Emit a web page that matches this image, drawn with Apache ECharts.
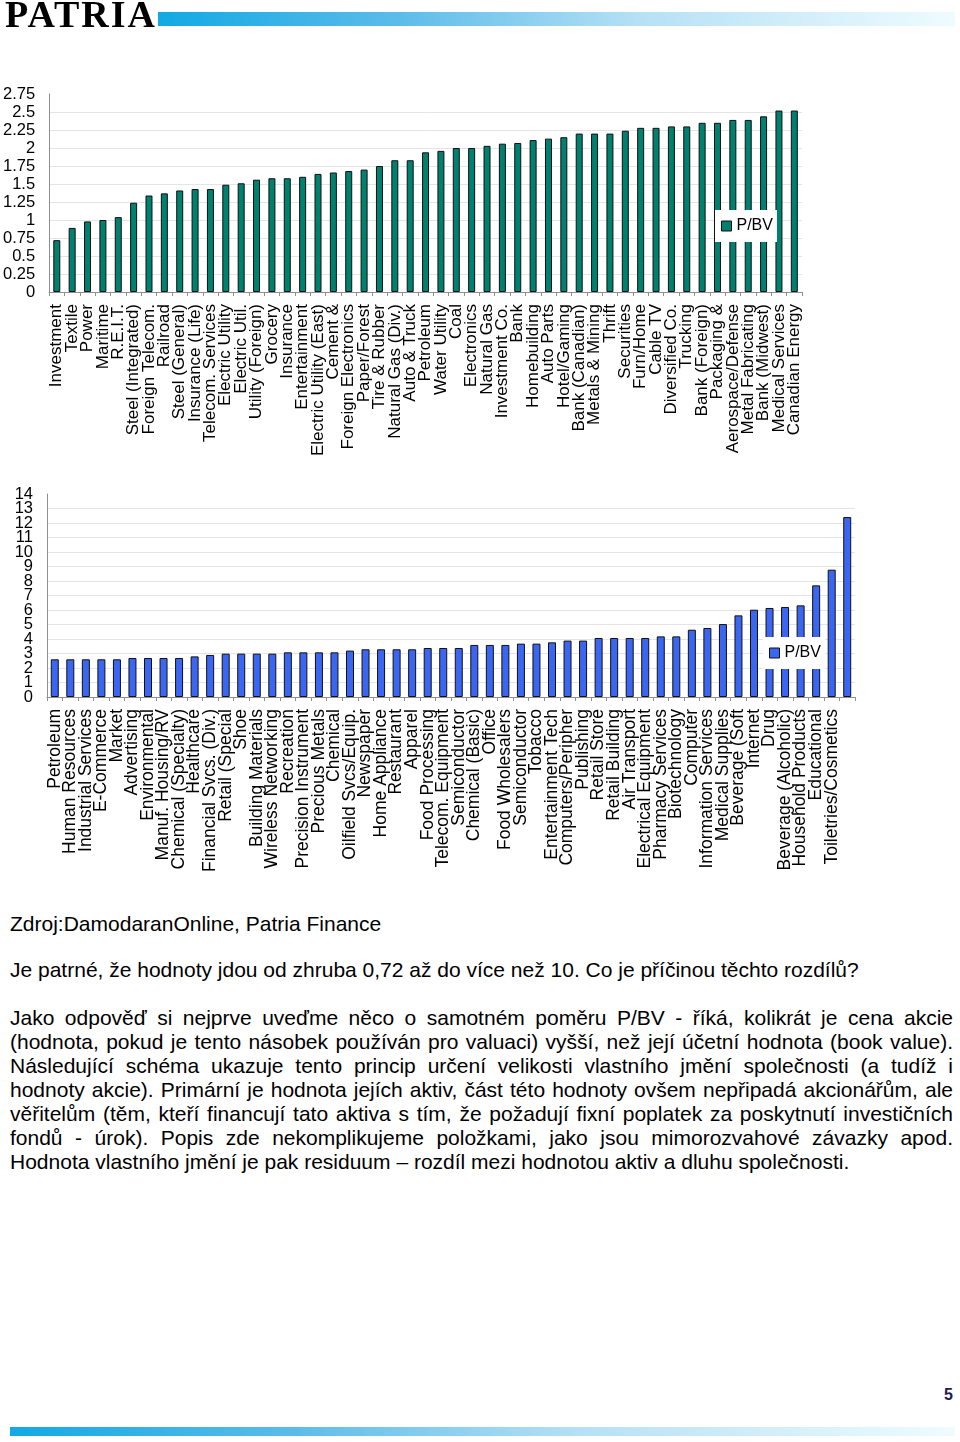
<!DOCTYPE html>
<html><head><meta charset="utf-8">
<script src="https://cdn.jsdelivr.net/npm/echarts@6/dist/echarts.min.js"></script>
<style>
body{margin:0;background:#fff}
#page{position:relative;width:960px;height:1442px;overflow:hidden;font-family:'Liberation Sans',Arial,sans-serif;color:#000;background:#fff}
.logo{position:absolute;left:5px;top:-5px;font-family:'Liberation Serif','Times New Roman',serif;font-weight:bold;font-size:38px;line-height:38px;letter-spacing:2px;z-index:2;white-space:nowrap}
.hbar{position:absolute;left:158px;top:12px;width:797px;height:14px;background:linear-gradient(to right,#12a9e4 0%,#5bbce9 30%,#b5e0f5 60%,#eefcff 100%);z-index:2}
.fbar{position:absolute;left:10px;top:1427px;width:945px;height:9px;background:linear-gradient(to right,#12a9e4 0%,#5bbce9 30%,#b5e0f5 60%,#eefcff 100%)}
#chart{position:absolute;left:0;top:0;width:960px;height:900px}
.t{position:absolute;left:10px;width:943px;font-size:21px;line-height:24px;white-space:nowrap;z-index:2}
.j{text-align:justify;text-align-last:justify}
.pn{position:absolute;left:935px;width:18px;text-align:right;top:1385px;font-size:16px;font-weight:bold;color:#1c1c50;line-height:20px}
</style></head>
<body><div id="page">
<div class="logo">PATRIA</div>
<div class="hbar"></div>
<div id="chart"></div>
<div class="t" style="top:912px">Zdroj:DamodaranOnline, Patria Finance</div>
<div class="t" style="top:958px">Je patrné, že hodnoty jdou od zhruba 0,72 až do více než 10. Co je příčinou těchto rozdílů?</div>
<div class="t j" style="top:1006px">Jako odpověď si nejprve uveďme něco o samotném poměru P/BV - říká, kolikrát je cena akcie</div>
<div class="t j" style="top:1030px">(hodnota, pokud je tento násobek používán pro valuaci) vyšší, než její účetní hodnota (book value).</div>
<div class="t j" style="top:1054px">Následující schéma ukazuje tento princip určení velikosti vlastního jmění společnosti (a tudíž i</div>
<div class="t j" style="top:1078px">hodnoty akcie). Primární je hodnota jejích aktiv, část této hodnoty ovšem nepřipadá akcionářům, ale</div>
<div class="t j" style="top:1102px">věřitelům (těm, kteří financují tato aktiva s tím, že požadují fixní poplatek za poskytnutí investičních</div>
<div class="t j" style="top:1126px">fondů - úrok). Popis zde nekomplikujeme položkami, jako jsou mimorozvahové závazky apod.</div>
<div class="t" style="top:1150px">Hodnota vlastního jmění je pak residuum – rozdíl mezi hodnotou aktiv a dluhu společnosti.</div>
<div class="pn">5</div>
<div class="fbar"></div>
</div>
<script>
const seriesName = 'P/BV';
const topCategories = ['Investment','Textile','Power','Maritime','R.E.I.T.','Steel (Integrated)','Foreign Telecom.','Railroad','Steel (General)','Insurance (Life)','Telecom. Services','Electric Utility','Electric Util.','Utility (Foreign)','Grocery','Insurance','Entertainment','Electric Utility (East)','Cement &','Foreign Electronics','Paper/Forest','Tire & Rubber','Natural Gas (Div.)','Auto & Truck','Petroleum','Water Utility','Coal','Electronics','Natural Gas','Investment Co.','Bank','Homebuilding','Auto Parts','Hotel/Gaming','Bank (Canadian)','Metals & Mining','Thrift','Securities','Furn/Home','Cable TV','Diversified Co.','Trucking','Bank (Foreign)','Packaging &','Aerospace/Defense','Metal Fabricating','Bank (Midwest)','Medical Services','Canadian Energy'];
const topValues = [0.72,0.89,0.98,1.00,1.04,1.24,1.34,1.37,1.41,1.43,1.43,1.49,1.51,1.56,1.58,1.58,1.60,1.64,1.66,1.68,1.70,1.75,1.83,1.83,1.94,1.96,2.00,2.00,2.03,2.06,2.07,2.11,2.13,2.15,2.20,2.20,2.20,2.24,2.28,2.28,2.30,2.30,2.35,2.35,2.39,2.39,2.44,2.52,2.52];
const bottomCategories = ['Petroleum','Human Resources','Industrial Services','E-Commerce','Market','Advertising','Environmental','Manuf. Housing/RV','Chemical (Specialty)','Healthcare','Financial Svcs. (Div.)','Retail (Special','Shoe','Building Materials','Wireless Networking','Recreation','Precision Instrument','Precious Metals','Chemical','Oilfield Svcs/Equip.','Newspaper','Home Appliance','Restaurant','Apparel','Food Processing','Telecom. Equipment','Semiconductor','Chemical (Basic)','Office','Food Wholesalers','Semiconductor','Tobacco','Entertainment Tech','Computers/Peripher','Publishing','Retail Store','Retail Building','Air Transport','Electrical Equipment','Pharmacy Services','Biotechnology','Computer','Information Services','Medical Supplies','Beverage (Soft','Internet','Drug','Beverage (Alcoholic)','Household Products','Educational','Toiletries/Cosmetics',''];
const bottomValues = [2.60,2.60,2.60,2.60,2.60,2.69,2.69,2.69,2.69,2.80,2.90,2.99,2.99,2.99,2.99,3.08,3.08,3.08,3.08,3.20,3.29,3.29,3.29,3.29,3.38,3.38,3.38,3.59,3.59,3.59,3.68,3.68,3.77,3.89,3.89,4.07,4.07,4.07,4.07,4.18,4.18,4.64,4.76,5.03,5.63,6.02,6.14,6.21,6.32,7.70,8.78,12.41];

const topColor = '#00806f';
const bottomColor = '#3b66f2';
const font = "'Liberation Sans', Arial, sans-serif";
const axisGrey = '#8f8f8f';

function xAx(idx, data, fs){
  return {type:'category', gridIndex:idx, data:data,
    axisLine:{lineStyle:{color:axisGrey,width:1}},
    axisTick:{show:true,length:4,lineStyle:{color:axisGrey}},
    axisLabel:{rotate:90, interval:0, margin:12, fontSize:fs, color:'#000', fontFamily:font}};
}
function yAx(idx, max, interval, showEnds){
  return {type:'value', gridIndex:idx, position:'left', min:0, max:max, interval:interval,
    axisLine:{show:true, lineStyle:{color:axisGrey,width:1}},
    axisTick:{show:false},
    splitLine:{show:true, showMaxLine:false, lineStyle:{color:'#e4e4e4',width:1}},
    axisLabel:{margin:14, fontSize:16.5, color:'#000', fontFamily:font,
      showMinLabel:showEnds, showMaxLabel:showEnds, hideOverlap:false}};
}
// extra label-only axis for the end values of the dense bottom axis
function yEnds(idx, max){
  return {type:'value', gridIndex:idx, position:'left', min:0, max:max, interval:max,
    axisLine:{show:false}, axisTick:{show:false}, splitLine:{show:false},
    axisLabel:{margin:14, fontSize:16.5, color:'#000', fontFamily:font, showMinLabel:true, showMaxLabel:true}};
}
function leg(left, top, color){
  return {data:[{name:seriesName, itemStyle:{color:color, borderColor:'#111', borderWidth:1}}],
    left:left, top:top, orient:'horizontal', icon:'rect', itemWidth:10, itemHeight:10,
    padding:[8,4,8,6], backgroundColor:'#fff', selectedMode:false,
    textStyle:{fontSize:16, color:'#000', fontFamily:font}};
}
const chart = echarts.init(document.getElementById('chart'), null, {renderer:'canvas'});
chart.setOption({
  animation:false,
  textStyle:{fontFamily:font},
  grid:[{left:49, top:94, width:753, height:198},{left:47, top:494, width:808, height:203}],
  xAxis:[xAx(0, topCategories, 17), xAx(1, bottomCategories, 17.5)],
  yAxis:[yAx(0, 2.75, 0.25, true), yAx(1, 14, 1, false), yEnds(1, 14)],
  legend:[leg(715, 210, topColor), leg(763, 637, bottomColor)],
  series:[
    {type:'bar', name:seriesName, xAxisIndex:0, yAxisIndex:0, data:topValues, barWidth:7,
     itemStyle:{color:topColor, borderColor:'#111', borderWidth:1}},
    {type:'bar', name:seriesName, xAxisIndex:1, yAxisIndex:1, data:bottomValues, barWidth:8,
     itemStyle:{color:bottomColor, borderColor:'#111', borderWidth:1}}
  ]
});
</script>
</body></html>
